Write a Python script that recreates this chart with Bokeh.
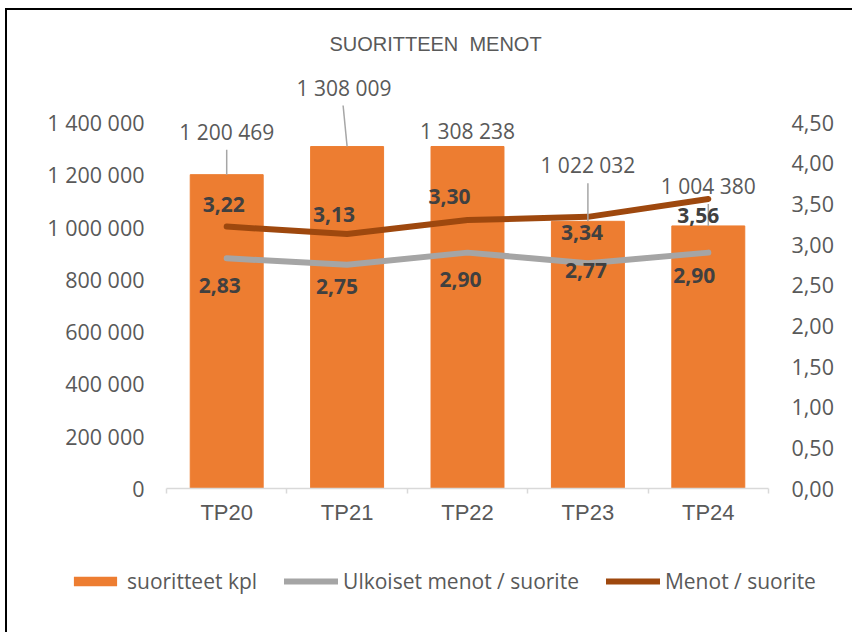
from bokeh.plotting import figure
from bokeh.layouts import column
from bokeh.models import (ColumnDataSource, Range1d, LinearAxis,
                          FixedTicker, CustomJSTickFormatter, LabelSet, Label,
                          Arrow, Legend, LegendItem)
from bokeh.core.properties import value
from bokeh.embed import file_html
from bokeh.resources import INLINE

# ---------------- data ----------------
categories = ["TP20", "TP21", "TP22", "TP23", "TP24"]
suoritteet = [1200469, 1308009, 1308238, 1022032, 1004380]
ulkoiset = [2.83, 2.75, 2.90, 2.77, 2.90]
menot = [3.22, 3.13, 3.30, 3.34, 3.56]
left_ticks = [0, 200000, 400000, 600000, 800000, 1000000, 1200000, 1400000]
right_ticks = [0.0, 0.5, 1.0, 1.5, 2.0, 2.5, 3.0, 3.5, 4.0, 4.5]
title_text = "SUORITTEEN\u00a0 MENOT"
series_names = ["suoritteet kpl", "Ulkoiset menot / suorite", "Menot / suorite"]

# ---------------- layout / style (pixels) ----------------
W = 845                    # canvas width (canvases start at page x=7)
FL, FW = 159, 602          # frame left / width
FH = 478                   # frame height (frame top = canvas top, page y=10)
BOT = 50                   # room for the x axis under the frame
H2 = 94                    # height of the legend strip
AXIS_PX = 366              # pixels from 0 to the top tick
TITLE_X, TITLE_Y = 269, 33 # title centre, px from frame left / top
LEG_X, LEG_Y = 61, 37      # legend position in the legend strip
bar_label_dy = [43, 59, 15, 56, 40]
bar_label_dx = [0, -3, 0, 0, 0]
leader_px = [25, 41, 0, 38, 22]
leader_dx_px = [0, -4, 0, 0, 0]
menot_dx = [-3, -13, -18, -6, -10]
menot_dy = [22, 19, 24, -16, -17]
ulk_dx = [-7, -10, -7, -2, -14]
ulk_dy = [-27, -22, -27, -7, -23]

ORANGE = "#ED7D31"
GRAY = "#A5A5A5"
BROWN = "#9E480E"
TXT = "#595959"
LBL = "#404040"
NUMFONT = "Open Sans"
CATFONT = "Liberation Sans"

n = len(categories)
xc = [i + 0.5 for i in range(n)]        # category centres
ymax = left_ticks[-1]
rmax = right_ticks[-1]
upp = ymax / AXIS_PX                    # left-axis data units per pixel
rupp = rmax / AXIS_PX
cpp = n / FW                            # category units per pixel
y_end = FH * upp
r_end = FH * rupp


def fmt_int(v):
    return f"{v:,}".replace(",", " ")


def fmt_dec(v):
    return f"{v:.2f}".replace(".", ",")


p = figure(x_range=Range1d(0, n), y_range=Range1d(0, y_end),
           frame_width=FW, frame_height=FH,
           min_border_left=FL, min_border_top=0,
           min_border_right=W - FL - FW, min_border_bottom=BOT,
           x_axis_location=None,
           output_backend="svg", toolbar_location=None)
p.extra_y_ranges = {"right": Range1d(0, r_end)}
p.outline_line_color = None
p.xgrid.visible = False
p.ygrid.visible = False
p.background_fill_color = "white"
p.border_fill_color = "white"

src = ColumnDataSource(dict(
    x=xc, cat=categories, val=suoritteet, ulk=ulkoiset, men=menot,
    val_txt=[fmt_int(v) for v in suoritteet],
    ulk_txt=[fmt_dec(v) for v in ulkoiset],
    men_txt=[fmt_dec(v) for v in menot],
    bdx=bar_label_dx, bdy=bar_label_dy,
    mdx=menot_dx, mdy=menot_dy, udx=ulk_dx, udy=ulk_dy,
))

p.vbar(x="x", top="val", width=0.606, source=src,
       fill_color=ORANGE, line_color=ORANGE)
p.line(x="x", y="ulk", source=src, y_range_name="right",
       line_color=GRAY, line_width=6, line_cap="round", line_join="round")
p.line(x="x", y="men", source=src, y_range_name="right",
       line_color=BROWN, line_width=6, line_cap="round", line_join="round")

# y axes
p.yaxis.ticker = FixedTicker(ticks=left_ticks)
p.yaxis.formatter = CustomJSTickFormatter(
    code="return Math.round(tick).toString().replace(/\\B(?=(\\d{3})+(?!\\d))/g, ' ');")
ra = LinearAxis(y_range_name="right", ticker=FixedTicker(ticks=right_ticks),
                formatter=CustomJSTickFormatter(code="return tick.toFixed(2).replace('.', ',');"))
p.add_layout(ra, "right")
for ax, so in ((p.yaxis[0], 16), (ra, 17)):
    ax.axis_line_color = None
    ax.major_tick_line_color = None
    ax.minor_tick_line_color = None
    ax.major_label_text_font = NUMFONT
    ax.major_label_text_font_size = "21.5px"
    ax.major_label_text_color = TXT
    ax.major_label_standoff = so

# x axis: line + category boundary ticks
bnd_axis = LinearAxis(ticker=FixedTicker(ticks=list(range(n + 1))),
                      formatter=CustomJSTickFormatter(code="return '';"))
bnd_axis.axis_line_color = "#D9D9D9"
bnd_axis.axis_line_width = 1.5
bnd_axis.major_tick_line_color = "#D9D9D9"
bnd_axis.major_tick_line_width = 1.5
bnd_axis.major_tick_in = 0
bnd_axis.major_tick_out = 5
bnd_axis.minor_tick_line_color = None
bnd_axis.major_label_standoff = 0
bnd_axis.major_label_text_font_size = "1px"
p.add_layout(bnd_axis, "below")

# x axis: category labels at category centres
cat_axis = LinearAxis(ticker=FixedTicker(ticks=xc),
                      major_label_overrides={x: c for x, c in zip(xc, categories)})
cat_axis.axis_line_color = None
cat_axis.major_tick_line_color = None
cat_axis.minor_tick_line_color = None
cat_axis.major_label_text_font = CATFONT
cat_axis.major_label_text_font_size = "22px"
cat_axis.major_label_text_color = TXT
cat_axis.major_label_standoff = 0
p.add_layout(cat_axis, "below")

# leader lines for bar labels
lx_s, lx_e, ly_s, ly_e = [], [], [], []
for i, v in enumerate(suoritteet):
    if leader_px[i] > 0:
        lx_e.append(xc[i])
        lx_s.append(xc[i] + leader_dx_px[i] * cpp)
        ly_e.append(v)
        ly_s.append(v + leader_px[i] * upp)
lead_src = ColumnDataSource(dict(xs=lx_s, xe=lx_e, ys=ly_s, ye=ly_e))
p.add_layout(Arrow(end=None, source=lead_src, x_start="xs", y_start="ys",
                   x_end="xe", y_end="ye", line_color="#A6A6A6", line_width=1.5))

# labels
p.add_layout(LabelSet(x="x", y="val", text="val_txt", source=src,
                      x_offset="bdx", y_offset="bdy",
                      text_align="center", text_baseline="middle",
                      text_font=value(NUMFONT), text_font_size="21px", text_color=TXT))
p.add_layout(LabelSet(x="x", y="men", text="men_txt", source=src,
                      y_range_name="right", x_offset="mdx", y_offset="mdy",
                      text_align="center", text_baseline="middle",
                      text_font=value(NUMFONT), text_font_size="21px",
                      text_font_style="bold", text_color=LBL))
p.add_layout(LabelSet(x="x", y="ulk", text="ulk_txt", source=src,
                      y_range_name="right", x_offset="udx", y_offset="udy",
                      text_align="center", text_baseline="middle",
                      text_font=value(NUMFONT), text_font_size="21px",
                      text_font_style="bold", text_color=LBL))

# title
p.add_layout(Label(x=TITLE_X * cpp, y=(FH - TITLE_Y) * upp,
                   text=title_text, text_align="center", text_baseline="middle",
                   text_font=CATFONT, text_font_size="20px", text_color=TXT))

# ---------------- legend strip ----------------
# the same series are drawn here, with ranges that keep them out of view,
# only so that the legend can show their glyphs
p2 = figure(x_range=Range1d(-3 * n, -2 * n), y_range=Range1d(-2 * ymax, -ymax),
            frame_width=W, frame_height=H2, min_border=0,
            x_axis_location=None, y_axis_location=None,
            output_backend="svg", toolbar_location=None)
p2.outline_line_color = None
p2.grid.visible = False
p2.background_fill_color = "white"
p2.border_fill_color = "white"
k_bar = p2.vbar(x="x", top="val", width=0.606, source=src,
                fill_color=ORANGE, line_color=None)
k_ulk = p2.line(x="x", y="ulk", source=src, line_color=GRAY, line_width=6, line_cap="round")
k_men = p2.line(x="x", y="men", source=src, line_color=BROWN, line_width=6, line_cap="round")
legend = Legend(items=[LegendItem(label=series_names[0], renderers=[k_bar]),
                       LegendItem(label=series_names[1], renderers=[k_ulk]),
                       LegendItem(label=series_names[2], renderers=[k_men])],
                orientation="horizontal", location=(LEG_X, LEG_Y),
                glyph_width=54, glyph_height=12, label_height=12,
                label_standoff=5, spacing=27, padding=0, margin=0,
                border_line_color=None, background_fill_alpha=0,
                label_text_font=NUMFONT, label_text_font_size="21px",
                label_text_color=TXT)
p2.add_layout(legend, "center")

layout = column(p, p2, spacing=0,
                styles={"margin-left": "5px", "margin-top": "8px",
                        "border-left": "2px solid black",
                        "border-top": "2px solid black"})

open("out.html", "w").write(file_html(layout, INLINE))
